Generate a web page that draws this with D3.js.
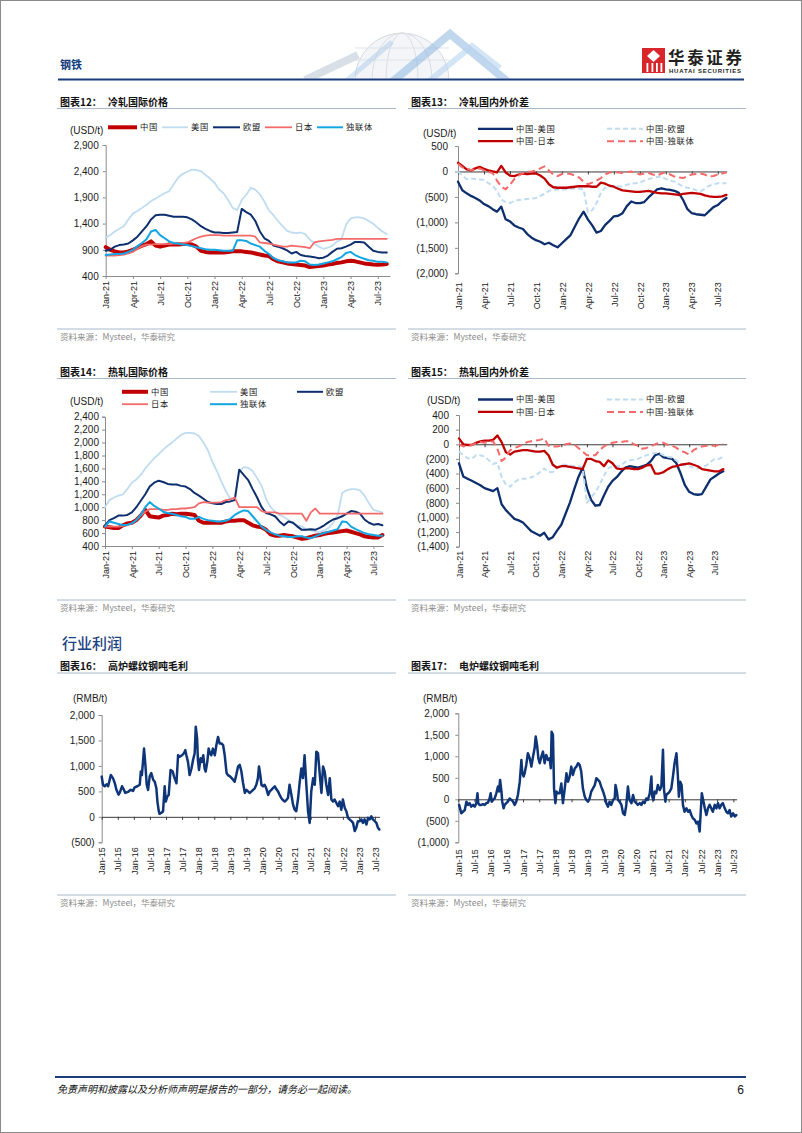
<!DOCTYPE html>
<html><head><meta charset="utf-8">
<script src="https://cdn.jsdelivr.net/npm/d3@7"></script>
<style>
html,body{margin:0;padding:0;background:#fff;}
svg{display:block;}
</style></head><body>
<svg id="page" width="802" height="1133"></svg>
<script>
// ---------------- DATA ----------------
// Charts 12-15: semi-monthly observations, Jan-21 .. Aug-23 (63 points each)
const tickMonths21 = [0,3,6,9,12,15,18,21,24,27,30];
const tickMonths15 = [0,6,12,18,24,30,36,42,48,54,60,66,72,78,84,90,96,102];

// 图表12 冷轧国际价格 (USD/t)
const cr_china = [950,900,870,850,850,870,900,940,980,1010,1060,980,960,980,1000,1000,1000,1010,1010,1000,960,880,860,850,850,850,850,860,870,870,870,860,850,830,810,790,780,720,680,660,640,630,620,610,600,570,580,590,600,620,630,650,660,680,690,680,660,640,630,620,615,620,630];
const cr_usa = [1130,1180,1250,1300,1350,1480,1590,1640,1700,1760,1830,1880,1930,1980,2020,2150,2280,2350,2390,2430,2420,2400,2330,2260,2180,2050,1980,1850,1700,1660,1850,1950,2080,2050,1960,1820,1650,1560,1450,1350,1260,1230,1220,1230,1200,1100,1020,960,920,940,980,1060,1100,1380,1500,1520,1520,1500,1450,1400,1320,1250,1200];
const cr_eu = [880,900,960,990,1000,1020,1080,1150,1250,1350,1480,1560,1570,1570,1550,1530,1530,1530,1520,1480,1420,1350,1300,1260,1230,1230,1220,1220,1230,1240,1680,1620,1570,1450,1250,1120,1070,980,960,930,890,830,860,800,780,770,760,740,750,790,860,920,930,960,1000,1050,1050,1040,960,880,860,850,850];
const cr_japan = [790,790,790,800,810,830,860,920,970,1000,1000,1010,1010,1010,1010,1020,1020,1030,1040,1080,1120,1150,1170,1180,1180,1180,1170,1170,1170,1170,1170,1170,1170,1150,1040,1030,1020,1000,980,960,960,980,970,960,950,930,1040,1060,1070,1080,1090,1110,1110,1110,1110,1110,1110,1110,1110,1110,1110,1110,1110];
const cr_cis = [800,810,820,820,830,860,900,970,1030,1100,1250,1280,1180,1120,1060,1030,1020,1000,990,970,950,930,910,900,900,890,880,880,880,1080,1080,1070,1020,990,960,880,820,740,700,680,660,660,660,690,680,620,610,620,640,660,680,720,760,840,860,800,760,730,700,690,670,670,660];

// 图表13 冷轧国内外价差 (USD/t)
const crs_us = [-200,-370,-430,-480,-520,-570,-640,-680,-740,-790,-690,-940,-980,-1060,-1100,-1130,-1230,-1300,-1350,-1380,-1430,-1400,-1450,-1490,-1410,-1330,-1250,-1080,-920,-790,-940,-1060,-1200,-1170,-1050,-970,-880,-870,-820,-680,-590,-620,-620,-600,-510,-430,-350,-330,-350,-360,-380,-420,-560,-740,-820,-840,-850,-860,-780,-700,-660,-580,-520];
const crs_eu = [0,-80,-150,-140,-150,-160,-170,-230,-280,-380,-550,-600,-620,-580,-560,-550,-540,-530,-520,-480,-440,-380,-360,-360,-360,-350,-340,-340,-340,-350,-800,-760,-620,-420,-320,-300,-280,-290,-300,-260,-240,-230,-220,-180,-150,-130,-110,-100,-150,-180,-200,-250,-300,-320,-330,-370,-390,-340,-280,-250,-230,-230,-230];
const crs_jp = [170,110,40,20,60,90,50,20,0,-20,110,-20,-80,-90,-60,-40,-50,-40,-40,-80,-140,-250,-310,-320,-320,-320,-310,-300,-290,-290,-290,-300,-300,-220,-240,-280,-300,-340,-370,-380,-390,-400,-400,-390,-380,-400,-420,-430,-430,-440,-450,-460,-440,-430,-420,-430,-440,-470,-490,-500,-500,-490,-460];
const crs_cis = [150,80,50,30,40,60,20,-10,-30,-180,-300,-350,-260,-150,-80,-30,-10,0,20,60,100,20,-60,-90,-50,-40,-50,-80,-120,-200,-250,-220,-180,-130,-60,-20,-10,-20,-30,-10,0,-30,-60,-40,-30,-60,-80,-40,-20,-60,-100,-120,-130,-90,-60,-50,-40,-60,-100,-90,-60,-40,-20];

// 图表14 热轧国际价格 (USD/t)
const hr_china = [700,690,680,680,720,750,760,800,870,960,860,850,840,870,880,900,890,900,900,890,880,790,760,760,760,760,760,780,790,790,800,800,760,720,700,690,650,580,560,560,570,560,550,530,510,520,540,560,570,590,600,610,620,630,640,620,600,580,550,540,530,530,570];
const hr_usa = [1000,1110,1150,1180,1200,1280,1380,1430,1500,1600,1680,1760,1820,1890,1950,2000,2060,2120,2150,2150,2140,2100,2000,1880,1700,1560,1400,1250,1130,1150,1550,1620,1610,1560,1450,1330,1130,1000,930,880,850,800,760,720,700,660,640,620,620,640,680,760,880,1220,1260,1280,1280,1260,1180,1060,960,940,920];
const hr_eu = [720,800,830,870,870,880,920,1000,1100,1200,1320,1380,1410,1390,1360,1350,1350,1330,1320,1280,1220,1180,1130,1080,1060,1050,1050,1080,1090,1110,1580,1500,1420,1280,1150,1000,910,890,860,780,720,780,760,700,650,650,660,650,680,720,770,810,830,860,900,940,930,900,810,760,730,740,720];
const hr_japan = [700,700,700,700,710,720,750,800,870,930,970,970,970,960,960,970,970,980,980,990,1000,1060,1080,1070,1070,1070,1080,1110,1120,1150,1000,1000,1000,1000,1000,940,920,920,920,900,900,900,900,900,900,790,920,980,900,900,900,900,900,900,900,900,900,900,900,900,900,900,900];
const hr_cis = [700,780,760,740,720,730,750,800,880,1000,1080,1020,980,930,910,900,880,860,850,820,820,850,820,800,790,780,780,790,820,880,920,950,940,860,780,700,650,610,580,560,550,540,540,550,550,530,520,550,580,600,620,640,660,780,770,700,660,630,600,580,570,560,560];

// 图表15 热轧国内外价差 (USD/t)
const hrs_us = [-260,-440,-470,-500,-530,-560,-600,-620,-640,-600,-820,-900,-960,-1020,-1040,-1070,-1130,-1190,-1220,-1250,-1210,-1300,-1270,-1180,-1100,-950,-800,-620,-450,-320,-600,-760,-840,-830,-700,-580,-500,-450,-380,-320,-300,-310,-320,-300,-280,-230,-150,-130,-180,-190,-200,-260,-400,-560,-650,-680,-690,-680,-580,-480,-440,-400,-370];
const hrs_eu = [-100,-150,-190,-200,-150,-150,-170,-220,-270,-250,-450,-550,-580,-520,-480,-470,-470,-450,-430,-380,-330,-380,-380,-320,-280,-280,-290,-300,-300,-320,-800,-720,-660,-550,-430,-330,-300,-300,-290,-240,-220,-210,-200,-170,-150,-130,-120,-120,-150,-170,-180,-220,-260,-290,-300,-320,-330,-310,-290,-240,-200,-200,-170];
const hrs_jp = [80,0,-10,-10,20,40,50,50,60,120,30,-110,-140,-100,-90,-80,-80,-90,-100,-100,-90,-150,-280,-320,-300,-300,-310,-320,-330,-340,-200,-200,-230,-240,-300,-220,-260,-330,-340,-330,-330,-340,-340,-320,-290,-280,-400,-400,-380,-340,-310,-300,-280,-270,-260,-280,-300,-340,-350,-360,-370,-370,-340];
const hrs_cis = [0,-30,-20,-10,10,30,20,30,40,-60,-230,-180,-80,-50,-30,0,30,40,50,60,80,-20,-30,-30,-20,0,10,0,-50,-100,-150,-150,-150,-80,-30,0,20,30,30,40,40,0,-20,-60,-50,-30,0,20,20,-10,-20,-50,-90,-110,-140,-80,-50,-30,-20,-20,-20,-10,0];

// 图表16 高炉螺纹钢吨毛利 (RMB/t): [months since Jan-15, value]
const profitBF = [[0,790],[0.5,630],[1.1,600],[1.8,640],[2.4,600],[3.4,820],[4.2,760],[4.9,660],[5.5,530],[6.3,435],[6.7,470],[7.6,600],[8.3,530],[8.8,470],[9.8,490],[10.8,530],[11.7,510],[12.3,580],[13.3,600],[14.2,630],[14.6,890],[15.0,820],[15.8,1340],[16.3,1020],[16.8,630],[17.3,530],[17.9,790],[18.5,860],[19.2,730],[19.8,690],[20.4,560],[20.8,300],[21.3,110],[21.6,60],[22.3,80],[22.9,110],[23.5,600],[23.9,300],[24.5,400],[25.0,430],[25.7,920],[26.5,890],[27.0,790],[27.9,660],[28.5,1210],[29.1,1180],[30.0,1210],[30.7,1250],[31.2,1310],[31.6,1210],[32.2,1080],[32.8,820],[33.5,950],[34.1,1120],[34.7,1250],[35.1,1770],[35.6,1540],[35.9,1120],[36.3,920],[36.9,1150],[37.4,1080],[37.9,1210],[38.4,950],[38.8,890],[39.4,1080],[39.9,1340],[40.4,1250],[40.9,1210],[41.5,1340],[42.2,1210],[42.8,1410],[43.4,1570],[44.0,1440],[44.7,1440],[45.3,1410],[45.9,1210],[46.6,860],[47.1,820],[48.0,790],[49.0,730],[49.6,690],[50.2,820],[50.9,990],[51.5,1020],[52.1,900],[52.7,680],[53.4,470],[54.0,530],[54.6,500],[55.2,470],[55.9,500],[56.5,530],[57.1,560],[57.7,630],[58.3,760],[58.7,990],[59.2,820],[59.6,630],[60.2,600],[60.8,630],[61.4,560],[62.1,430],[62.7,500],[63.3,530],[64.0,570],[64.6,600],[65.2,540],[65.8,500],[66.4,430],[67.0,370],[67.6,330],[68.3,300],[68.9,330],[69.5,370],[70.1,630],[70.8,430],[71.4,240],[72.0,140],[72.6,110],[73.3,370],[73.9,690],[74.5,950],[75.1,760],[75.7,1210],[76.4,600],[77.0,110],[77.6,-120],[78.2,500],[78.9,760],[79.5,630],[80.1,1280],[80.7,1250],[81.4,820],[82.0,470],[82.6,990],[83.2,890],[83.8,630],[84.5,430],[85.1,760],[85.7,340],[86.3,300],[86.9,340],[87.6,270],[88.2,210],[88.8,300],[89.4,140],[90.0,340],[90.7,175],[91.3,110],[91.9,-20],[92.5,-50],[93.2,-85],[93.8,-120],[94.4,-280],[95.0,-215],[95.6,-85],[96.3,-85],[96.9,-50],[97.5,-120],[98.1,-50],[98.8,-150],[99.4,-20],[100.0,-50],[100.6,10],[101.2,-50],[101.9,-85],[102.5,-120],[103.1,-215],[103.6,-250]];

// 图表17 电炉螺纹钢吨毛利 (RMB/t): [months since Jan-15, value]
const profitEAF = [[0.3,-130],[1.1,-325],[1.7,-290],[2.4,-250],[3.0,-55],[3.6,-130],[4.2,-90],[4.8,-170],[5.5,-130],[6.1,-170],[6.7,-90],[7.1,140],[7.4,-90],[7.9,-130],[8.5,-130],[9.2,-115],[9.8,-130],[10.4,-90],[11.0,-75],[11.6,20],[12.0,140],[12.4,-55],[12.9,-15],[13.5,20],[14.1,140],[14.7,295],[15.1,180],[15.5,450],[16.0,180],[16.3,-55],[16.8,-210],[17.2,-130],[17.8,-90],[18.4,-55],[19.0,20],[19.7,-15],[20.3,-55],[20.9,-130],[21.5,-55],[22.1,100],[22.8,410],[23.4,915],[23.7,640],[24.2,530],[24.6,605],[25.2,800],[25.8,1070],[26.5,950],[27.1,760],[27.7,990],[28.3,1185],[28.7,1460],[29.2,1265],[29.7,950],[30.2,840],[30.8,990],[31.4,1110],[32.0,840],[32.6,1030],[33.3,915],[33.9,950],[34.3,720],[34.6,1570],[35.1,1500],[35.5,255],[36.0,-90],[36.4,180],[37.0,140],[37.6,140],[38.2,370],[38.8,-90],[39.4,215],[40.1,605],[40.7,410],[41.3,530],[41.9,760],[42.5,565],[43.2,720],[43.8,760],[44.4,840],[45.0,800],[45.6,640],[46.2,255],[46.9,60],[47.5,-15],[48.1,-55],[48.7,20],[49.3,180],[49.95,255],[50.6,330],[51.2,490],[51.8,450],[52.4,410],[53.0,295],[53.7,180],[54.3,60],[54.9,-90],[55.5,-170],[56.1,-55],[56.7,-130],[57.4,-15],[58.0,20],[58.3,335],[58.8,180],[59.2,-15],[59.8,-55],[60.5,-130],[61.1,-325],[61.7,-365],[62.3,-130],[62.9,295],[63.5,-15],[64.2,-90],[64.8,100],[65.4,-55],[66.0,-90],[66.6,-130],[67.3,-90],[67.9,-130],[68.5,-55],[69.1,-90],[69.7,20],[70.3,-15],[71.0,140],[71.6,530],[71.9,60],[72.4,-15],[72.8,180],[73.4,140],[74.0,335],[74.7,215],[75.3,295],[75.9,1150],[76.3,215],[76.8,-55],[77.1,100],[77.8,140],[78.4,180],[79.0,255],[79.6,530],[80.2,840],[80.9,1070],[81.4,565],[81.8,60],[82.3,410],[82.8,335],[83.3,-130],[83.9,-290],[84.6,-210],[85.2,-290],[85.8,-250],[86.4,-365],[87.0,-440],[87.7,-480],[88.3,-560],[88.9,-520],[89.5,-750],[89.9,-290],[90.3,140],[90.7,20],[91.4,-210],[92.0,-365],[92.6,-210],[93.2,-130],[93.8,-210],[94.4,-290],[95.1,-130],[95.7,-210],[96.3,-90],[96.9,-210],[97.5,-130],[98.1,-90],[98.8,-210],[99.4,-290],[100.0,-325],[100.6,-250],[101.2,-400],[101.9,-325],[102.5,-400],[103.1,-365]];

// ---------------- DRAWING ----------------
const LAT = "'Liberation Sans', Arial, sans-serif";
const CJK = "'Noto Sans CJK SC', 'Liberation Sans', sans-serif";
const NAVY = "#0e2f6e", RED = "#c00000", LBLUE = "#bfdcf0", SALMON = "#f46a6a", CYAN = "#12a6e2";
const RULE = "#a9b8cc";
const MON = ["Jan","Feb","Mar","Apr","May","Jun","Jul","Aug","Sep","Oct","Nov","Dec"];
const monthLabel = y0 => m => `${MON[m % 12]}-${String((y0 + Math.floor(m / 12)) % 100).padStart(2, "0")}`;
const numFmt = v => v < 0 ? `(${d3.format(",")(-v)})` : d3.format(",")(v);
const grid = d3.range(63).map(i => i / 2);
const onGrid = vals => vals.map((v, i) => [grid[i], v]);

const svg = d3.select("#page");
svg.append("rect").attr("x", 0.5).attr("y", 0.5).attr("width", 801).attr("height", 1132)
  .attr("fill", "#fff").attr("stroke", "#8a8a8a");

// ---- header decoration ----
const defs = svg.append("defs");
defs.append("clipPath").attr("id", "hclip").append("rect").attr("x", 280).attr("y", 25).attr("width", 260).attr("height", 53.5);
const deco = svg.append("g").attr("clip-path", "url(#hclip)");
deco.append("circle").attr("cx", 402).attr("cy", 80).attr("r", 47).attr("fill", "#f3f5f8").attr("stroke", "#d3d9e1");
[30, 16].forEach(rx => deco.append("ellipse").attr("cx", 402).attr("cy", 80).attr("rx", rx).attr("ry", 47).attr("fill", "none").attr("stroke", "#d9dee5"));
[48, 60].forEach(yy => deco.append("line").attr("x1", 355).attr("x2", 449).attr("y1", yy).attr("y2", yy).attr("stroke", "#dde2e8"));
deco.append("polyline").attr("points", "305,80 358,55").attr("fill", "none").attr("stroke", "#c9d2dd").attr("stroke-width", 8).attr("opacity", 0.7);
deco.append("polyline").attr("points", "392,82 450,34 508,82").attr("fill", "none").attr("stroke", "#8cb6e0").attr("stroke-width", 8).attr("opacity", 0.55);
deco.append("polyline").attr("points", "428,82 472,46 500,68").attr("fill", "none").attr("stroke", "#b8d3ee").attr("stroke-width", 6).attr("opacity", 0.6);
deco.append("polyline").attr("points", "345,82 392,42").attr("fill", "none").attr("stroke", "#a9c7e8").attr("stroke-width", 5).attr("opacity", 0.45);

svg.append("text").attr("x", 60).attr("y", 69).attr("font-family", CJK).attr("font-size", 11).attr("font-weight", 700)
  .attr("fill", "#0e3a7a").text("钢铁");
// logo
svg.append("rect").attr("x", 642).attr("y", 48).attr("width", 23).attr("height", 25).attr("fill", "#d9262c");
svg.append("path").attr("d", "M653.5,50 L660,56 L653.5,62 L647,56 Z").attr("fill", "#fff");
[646.5, 651.5, 656, 660.5].forEach(xx => svg.append("rect").attr("x", xx).attr("y", 63).attr("width", 1.8).attr("height", 9).attr("fill", "#fff"));
svg.append("text").attr("x", 668).attr("y", 64).attr("font-family", CJK).attr("font-size", 16.5).attr("font-weight", 700)
  .attr("fill", "#231f20").attr("textLength", 74).text("华泰证券");
svg.append("text").attr("x", 669).attr("y", 73).attr("font-family", LAT).attr("font-size", 6).attr("font-weight", 700)
  .attr("fill", "#231f20").attr("textLength", 72).text("HUATAI SECURITIES");
svg.append("line").attr("x1", 58).attr("x2", 744).attr("y1", 79.5).attr("y2", 79.5).attr("stroke", "#1b3b7a").attr("stroke-width", 2);

// ---- footer ----
svg.append("line").attr("x1", 55).attr("x2", 746).attr("y1", 1077).attr("y2", 1077).attr("stroke", "#1b3b7a").attr("stroke-width", 2);
svg.append("text").attr("x", 57).attr("y", 1093).attr("font-family", CJK).attr("font-size", 10).attr("font-style", "italic")
  .attr("fill", "#111").text("免责声明和披露以及分析师声明是报告的一部分，请务必一起阅读。");
svg.append("text").attr("x", 744).attr("y", 1094).attr("text-anchor", "end").attr("font-family", LAT).attr("font-size", 12)
  .attr("fill", "#111").text("6");

// section heading
svg.append("text").attr("x", 62).attr("y", 648.5).attr("font-family", CJK).attr("font-size", 15).attr("font-weight", 500)
  .attr("fill", "#1c437f").text("行业利润");

function frame(x0, x1, titleNo, titleText, titleY, ruleY, srcY) {
  const t = svg.append("text").attr("x", x0 + 3).attr("y", titleY).attr("font-family", CJK).attr("font-size", 10)
    .attr("font-weight", 700).attr("fill", "#111");
  t.append("tspan").text("图表" + titleNo + "：");
  t.append("tspan").attr("x", x0 + 51).text(titleText);
  svg.append("line").attr("x1", x0).attr("x2", x1).attr("y1", ruleY).attr("y2", ruleY).attr("stroke", RULE).attr("stroke-width", 1);
  svg.append("line").attr("x1", x0).attr("x2", x1).attr("y1", srcY).attr("y2", srcY).attr("stroke", RULE).attr("stroke-width", 1);
  svg.append("text").attr("x", x0 + 3).attr("y", srcY + 11).attr("font-family", CJK).attr("font-size", 8.5)
    .attr("fill", "#8c8c8c").text("资料来源：Mysteel，华泰研究");
}

function chart(c) {
  const g = svg.append("g");
  const x = d3.scaleLinear().domain(c.xDomain).range(c.xRange);
  const y = d3.scaleLinear().domain(c.yDomain).range(c.yRange);
  const bottom = c.yRange[0];
  // y axis
  const ya = g.append("g").attr("transform", `translate(${c.xRange[0]},0)`)
    .call(d3.axisLeft(y).tickValues(c.yTicks).tickSize(3).tickPadding(c.yPad).tickFormat(numFmt));
  ya.selectAll("path,line").attr("stroke", "#8c8c8c");
  ya.selectAll("text").attr("font-family", LAT).attr("font-size", 10).attr("fill", "#1a1a1a");
  // baseline (zero line or bottom axis)
  const baseY = c.zero ? y(0) : bottom;
  const xa = g.append("g").attr("transform", `translate(0,${baseY})`)
    .call(d3.axisBottom(x).tickValues(c.xTicks).tickSize(3).tickFormat("").tickSizeOuter(0));
  xa.selectAll("path,line").attr("stroke", c.zero ? "#3a3a3a" : "#8c8c8c");
  // labels at bottom
  const xl = g.append("g").attr("transform", `translate(0,${bottom})`)
    .call(d3.axisBottom(x).tickValues(c.xTicks).tickSize(0).tickFormat(c.xFmt));
  xl.select(".domain").remove();
  xl.selectAll("text").attr("transform", "rotate(-90)").attr("x", -c.labGap).attr("y", 0).attr("dy", "0.35em")
    .attr("text-anchor", "end").attr("font-family", LAT).attr("font-size", 9).attr("fill", "#1a1a1a");
  // series
  const line = d3.line().x(d => x(d[0])).y(d => y(d[1]));
  c.series.forEach(s => {
    g.append("path").datum(s.data).attr("d", line).attr("fill", "none").attr("stroke", s.color)
      .attr("stroke-width", s.w).attr("stroke-linejoin", "round").attr("stroke-linecap", s.dash ? "butt" : "round")
      .attr("stroke-dasharray", s.dash || null);
  });
  // unit
  svg.append("text").attr("x", c.unit[0]).attr("y", c.unit[1]).attr("dy", "0.35em").attr("font-family", LAT)
    .attr("font-size", 10).attr("fill", "#1a1a1a").text(c.unit[2]);
  // legend
  (c.legend || []).forEach(l => {
    const s = c.series[l.i];
    svg.append("line").attr("x1", l.x1).attr("x2", l.x2).attr("y1", l.y).attr("y2", l.y).attr("stroke", s.color)
      .attr("stroke-width", s.lw || s.w).attr("stroke-dasharray", s.dash || null);
    svg.append("text").attr("x", l.x2 + 3).attr("y", l.y).attr("dy", "0.36em").attr("font-family", CJK)
      .attr("font-size", 8.3).attr("letter-spacing", 0.7).attr("fill", "#1a1a1a").text(s.name);
  });
}

// ---- frames ----
frame(57, 396, "12", "冷轧国际价格", 105.5, 108.5, 329);
frame(408, 746, "13", "冷轧国内外价差", 105.5, 108.5, 329);
frame(57, 396, "14", "热轧国际价格", 375.5, 378.5, 600);
frame(408, 746, "15", "热轧国内外价差", 375.5, 378.5, 600);
frame(57, 396, "16", "高炉螺纹钢吨毛利", 669.5, 673, 895);
frame(408, 746, "17", "电炉螺纹钢吨毛利", 669.5, 673, 895);

// 图表12
chart({
  xDomain: [0, 31.35], xRange: [105.7, 390], yDomain: [400, 2900], yRange: [276, 145],
  yTicks: [400, 900, 1400, 1900, 2400, 2900], yPad: 4, xTicks: tickMonths21, xFmt: monthLabel(2021), labGap: 5,
  unit: [70, 130.5, "(USD/t)"],
  series: [
    {name: "中国", data: onGrid(cr_china), color: RED, w: 4},
    {name: "美国", data: onGrid(cr_usa), color: LBLUE, w: 1.8},
    {name: "欧盟", data: onGrid(cr_eu), color: NAVY, w: 2},
    {name: "日本", data: onGrid(cr_japan), color: SALMON, w: 1.8},
    {name: "独联体", data: onGrid(cr_cis), color: CYAN, w: 2}
  ],
  legend: [
    {i: 0, x1: 108, x2: 137, y: 127.3}, {i: 1, x1: 162, x2: 188, y: 127.3}, {i: 2, x1: 213, x2: 240, y: 127.3},
    {i: 3, x1: 265, x2: 292, y: 127.3}, {i: 4, x1: 317, x2: 343, y: 127.3}
  ]
});

// 图表13
chart({
  xDomain: [0, 31.03], xRange: [458, 726.7], yDomain: [-2000, 500], yRange: [273.3, 146],
  yTicks: [-2000, -1500, -1000, -500, 0, 500], yPad: 7, xTicks: tickMonths21, xFmt: monthLabel(2021), labGap: 9,
  zero: true, unit: [423, 133, "(USD/t)"],
  series: [
    {name: "中国-美国", data: onGrid(crs_us), color: NAVY, w: 2.3},
    {name: "中国-欧盟", data: onGrid(crs_eu), color: LBLUE, w: 2, dash: "5,3"},
    {name: "中国-日本", data: onGrid(crs_jp), color: RED, w: 2.3},
    {name: "中国-独联体", data: onGrid(crs_cis), color: SALMON, w: 2, dash: "7,4"}
  ],
  legend: [
    {i: 0, x1: 478, x2: 513, y: 128.8}, {i: 2, x1: 478, x2: 513, y: 141.2},
    {i: 1, x1: 607, x2: 643, y: 128.8}, {i: 3, x1: 607, x2: 643, y: 141.2}
  ]
});

// 图表14
chart({
  xDomain: [0, 31.1], xRange: [105, 383.3], yDomain: [400, 2400], yRange: [546, 416.7],
  yTicks: d3.range(400, 2401, 200), yPad: 3, xTicks: tickMonths21, xFmt: monthLabel(2021), labGap: 5,
  unit: [70, 401, "(USD/t)"],
  series: [
    {name: "中国", data: onGrid(hr_china), color: RED, w: 4},
    {name: "美国", data: onGrid(hr_usa), color: LBLUE, w: 1.8},
    {name: "欧盟", data: onGrid(hr_eu), color: NAVY, w: 2},
    {name: "日本", data: onGrid(hr_japan), color: SALMON, w: 1.8},
    {name: "独联体", data: onGrid(hr_cis), color: CYAN, w: 2}
  ],
  legend: [
    {i: 0, x1: 122, x2: 148, y: 391.8}, {i: 1, x1: 210, x2: 237, y: 391.8}, {i: 2, x1: 297, x2: 323, y: 391.8},
    {i: 3, x1: 122, x2: 148, y: 404.2}, {i: 4, x1: 210, x2: 237, y: 404.2}
  ]
});

// 图表15
chart({
  xDomain: [0, 31.4], xRange: [459, 726.7], yDomain: [-1400, 400], yRange: [546.7, 415],
  yTicks: d3.range(-1400, 401, 200), yPad: 7, xTicks: tickMonths21, xFmt: monthLabel(2021), labGap: 4,
  zero: true, unit: [427, 400.7, "(USD/t)"],
  series: [
    {name: "中国-美国", data: onGrid(hrs_us), color: NAVY, w: 2.3},
    {name: "中国-欧盟", data: onGrid(hrs_eu), color: LBLUE, w: 2, dash: "5,3"},
    {name: "中国-日本", data: onGrid(hrs_jp), color: RED, w: 2.3},
    {name: "中国-独联体", data: onGrid(hrs_cis), color: SALMON, w: 2, dash: "7,4"}
  ],
  legend: [
    {i: 0, x1: 478, x2: 513, y: 399.5}, {i: 2, x1: 478, x2: 513, y: 411.9},
    {i: 1, x1: 607, x2: 643, y: 399.5}, {i: 3, x1: 607, x2: 643, y: 411.9}
  ]
});

// 图表16
chart({
  xDomain: [0, 103.7], xRange: [101.7, 379.6], yDomain: [-500, 2000], yRange: [842.3, 715],
  yTicks: [-500, 0, 500, 1000, 1500, 2000], yPad: 4, xTicks: tickMonths15, xFmt: monthLabel(2015), labGap: 5,
  zero: true, unit: [73, 698, "(RMB/t)"],
  series: [{name: "高炉", data: profitBF, color: "#0e3578", w: 2.5}]
});

// 图表17
chart({
  xDomain: [0, 103.2], xRange: [458.3, 736.6], yDomain: [-1000, 2000], yRange: [842.3, 713.3],
  yTicks: [-1000, -500, 0, 500, 1000, 1500, 2000], yPad: 6, xTicks: tickMonths15, xFmt: monthLabel(2015), labGap: 7,
  zero: true, unit: [423, 698, "(RMB/t)"],
  series: [{name: "电炉", data: profitEAF, color: "#0e3578", w: 2.5}]
});
</script></body></html>
